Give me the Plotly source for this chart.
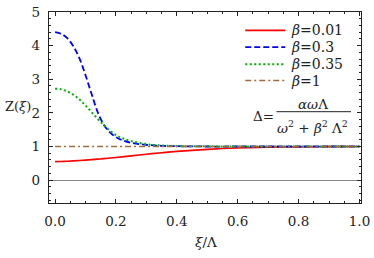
import plotly.graph_objects as go

xi = [0, .02, .04, .06, .08, .10, .12, .14, .16, .18, .20, .22, .25, .30, .35, .40, .50, .60, .70, .80, .90, 1.0]
z_b001 = [.55, .555, .562, .572, .583, .596, .61, .625, .64, .657, .675, .693, .72, .77, .815, .855, .915, .955, .978, .99, .997, 1.0]
z_b03 = [4.40, 4.35, 4.22, 3.98, 3.62, 3.12, 2.56, 2.02, 1.65, 1.42, 1.28, 1.19, 1.11, 1.05, 1.02, 1.01, 1.0, 1.0, 1.0, 1.0, 1.0, 1.0]
z_b035 = [2.72, 2.70, 2.64, 2.54, 2.40, 2.22, 2.02, 1.82, 1.64, 1.47, 1.34, 1.25, 1.16, 1.07, 1.03, 1.015, 1.005, 1.0, 1.0, 1.0, 1.0, 1.0]
z_b1 = [1.0] * len(xi)

names = ["<i>β</i>=0.01", "<i>β</i>=0.3", "<i>β</i>=0.35", "<i>β</i>=1"]
colors = ["#ff0000", "#0000ff", "#00b000", "#a36b3b"]
dashes = ["solid", "6px,3px", "2px,2.5px", "6px,3px,2px,3px"]
widths = [1.6, 1.8, 2.0, 1.6]
series = [z_b001, z_b03, z_b035, z_b1]

FONT = "DejaVu Serif"
TXT = "#222"
fig = go.Figure()
for n, c, d, w, ys in zip(names, colors, dashes, widths, series):
    fig.add_trace(go.Scatter(x=xi, y=ys, mode="lines", name=n, showlegend=False,
                             hoverinfo="skip",
                             line=dict(color=c, dash=d, width=w, shape="spline")))

axis_common = dict(showline=True, linecolor="#222", linewidth=1.3, mirror="allticks",
                   ticks="inside", ticklen=4, tickcolor="#222", showgrid=False,
                   ticklabeloverflow="allow",
                   tickfont=dict(family=FONT, size=13.5, color=TXT))
fig.update_xaxes(range=[-0.02, 1.005], tickvals=[0, .2, .4, .6, .8, 1.0],
                 ticktext=["0.0", "0.2", "0.4", "0.6", "0.8", "1.0"], zeroline=False,
                 ticklabelstandoff=5,
                 minor=dict(dtick=0.05, ticks="inside", ticklen=2, tickcolor="#222"),
                 **axis_common)
fig.update_yaxes(range=[-0.68, 5.0], tickvals=[0, 1, 2, 3, 4, 5], zeroline=True,
                 zerolinecolor="#888", zerolinewidth=1, ticklabelstandoff=5,
                 minor=dict(dtick=0.2, ticks="inside", ticklen=2, tickcolor="#222"),
                 **axis_common)

# custom legend (paper coordinates)
leg_y = [0.904, 0.816, 0.727, 0.641]
for n, c, d, w, yy in zip(names, colors, dashes, widths, leg_y):
    fig.add_shape(type="line", xref="paper", yref="paper", x0=0.629, x1=0.757, y0=yy, y1=yy,
                  line=dict(color=c, dash=d, width=w))
    fig.add_annotation(text=n, xref="paper", yref="paper", x=0.768, y=yy,
                       xanchor="left", yanchor="middle", showarrow=False,
                       font=dict(family=FONT, size=14, color=TXT))

fig.add_annotation(text="Z(<i>ξ</i>)", xref="paper", yref="paper", x=-0.146, y=0.505,
                   xanchor="left", yanchor="middle", showarrow=False,
                   font=dict(family=FONT, size=13, color=TXT))
fig.add_annotation(text="<i>ξ</i>/Λ", xref="paper", yref="paper", x=0.503, y=-0.202,
                   xanchor="center", yanchor="middle", showarrow=False,
                   font=dict(family=FONT, size=13.5, color=TXT))
# formula
fig.add_annotation(text="Δ=", xref="paper", yref="paper", x=0.727, y=0.455,
                   xanchor="right", yanchor="middle", showarrow=False,
                   font=dict(family=FONT, size=13.5, color=TXT))
fig.add_annotation(text="<i>αω</i>Λ", xref="paper", yref="paper", x=0.846, y=0.517,
                   xanchor="center", yanchor="middle", showarrow=False,
                   font=dict(family=FONT, size=13.5, color=TXT))
fig.add_annotation(text="<i>ω</i><sup>2</sup> + <i>β</i><sup>2</sup> Λ<sup>2</sup>",
                   xref="paper", yref="paper", x=0.846, y=0.40,
                   xanchor="center", yanchor="middle", showarrow=False,
                   font=dict(family=FONT, size=13.5, color=TXT))
fig.add_shape(type="line", xref="paper", yref="paper", x0=0.729, x1=0.968, y0=0.478, y1=0.478,
              line=dict(color="#222", width=1))

fig.update_layout(width=374, height=258, margin=dict(l=49, r=9, t=4, b=55),
                  plot_bgcolor="white", paper_bgcolor="white", showlegend=False,
                  hovermode=False)
fig.write_html("out.html", config={"displayModeBar": False, "staticPlot": True})

with open("out.html", encoding="utf-8") as f:
    html = f.read()
html = html.replace("<head>", "<head><style>html,body{margin:0;padding:0;overflow:hidden}</style>", 1)
with open("out.html", "w", encoding="utf-8") as f:
    f.write(html)
